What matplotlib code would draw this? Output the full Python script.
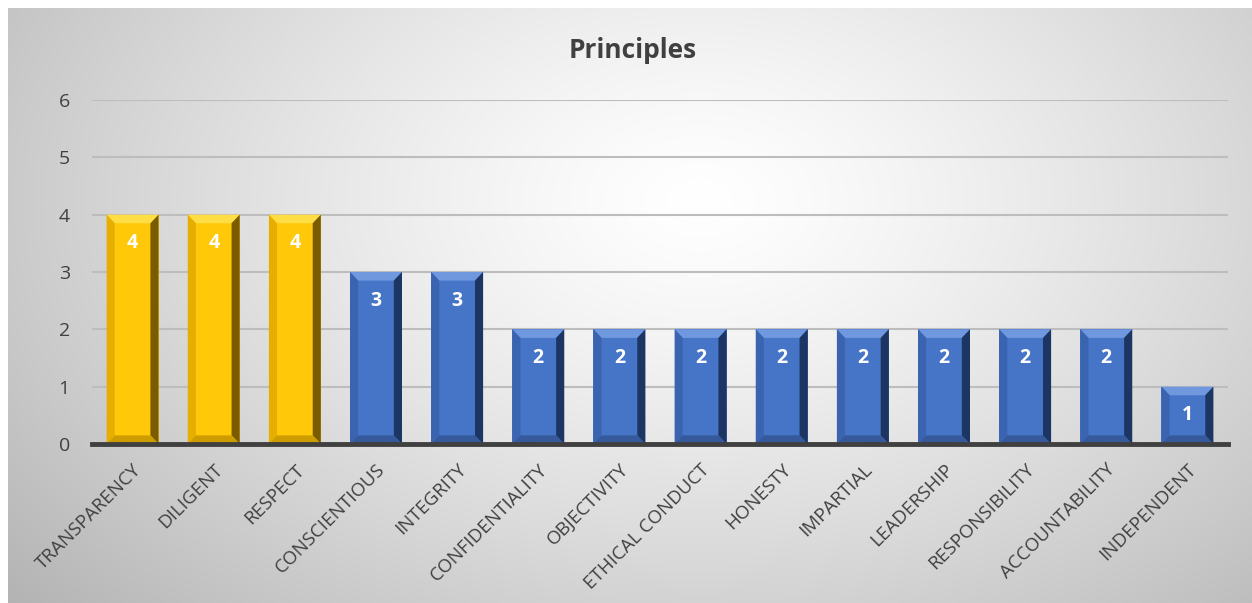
import numpy as np
import matplotlib
matplotlib.use("Agg")
import matplotlib.pyplot as plt
from matplotlib.patches import Polygon

# chart data
principles = ["TRANSPARENCY", "DILIGENT", "RESPECT", "CONSCIENTIOUS", "INTEGRITY",
              "CONFIDENTIALITY", "OBJECTIVITY", "ETHICAL CONDUCT", "HONESTY",
              "IMPARTIAL", "LEADERSHIP", "RESPONSIBILITY", "ACCOUNTABILITY",
              "INDEPENDENT"]
counts = [4, 4, 4, 3, 3, 2, 2, 2, 2, 2, 2, 2, 2, 1]
highlight = [True, True, True] + [False] * 11
y_ticks = [0, 1, 2, 3, 4, 5, 6]

GOLD = dict(face="#FFC808", top="#FFDD45", left="#E6AE00", right="#7A5B00", bottom="#CC9C00")
BLUE = dict(face="#4674C6", top="#7098DE", left="#3A64B0", right="#1C3562", bottom="#35599A")

plt.rcParams["font.family"] = ["Open Sans", "DejaVu Sans"]

W, H = 1252, 603
fig = plt.figure(figsize=(W / 100, H / 100), dpi=100)
fig.patch.set_facecolor("white")

# radial gradient background
bg = fig.add_axes([8 / W, 0, 1 - 8 / W, 1 - 8 / H], zorder=-10)
xx, yy = np.meshgrid(np.linspace(8, W, 400), np.linspace(8, H, 200))
d = np.sqrt(((xx - 700) / 780) ** 2 + ((yy - 200) / 520) ** 2)
v = 1.0 - 0.24 * np.clip(d, 0, 1.2) ** 1.3
bg.imshow(np.dstack([v, v, v]), aspect="auto", extent=[0, 1, 0, 1], origin="upper")
bg.set_axis_off()

ax = fig.add_axes([92 / W, 1 - 444 / H, (1228 - 92) / W, (444 - 100) / H])
ax.patch.set_alpha(0)

x = np.arange(len(principles))
colors = [GOLD["face"] if h else BLUE["face"] for h in highlight]
bars = ax.bar(x, counts, width=0.64, color=colors, zorder=3)

# bevel effect drawn on top of each bar
bx, by = 0.1, 0.15
for b, h in zip(bars, highlight):
    c = GOLD if h else BLUE
    x0, w, ht = b.get_x(), b.get_width(), b.get_height()
    x1 = x0 + w
    faces = [
        ([(x0, ht), (x1, ht), (x1 - bx, ht - by), (x0 + bx, ht - by)], c["top"]),
        ([(x0, 0), (x0 + bx, by), (x0 + bx, ht - by), (x0, ht)], c["left"]),
        ([(x1, 0), (x1, ht), (x1 - bx, ht - by), (x1 - bx, by)], c["right"]),
        ([(x0, 0), (x1, 0), (x1 - bx, by), (x0 + bx, by)], c["bottom"]),
    ]
    for pts, col in faces:
        ax.add_patch(Polygon(pts, closed=True, facecolor=col, edgecolor="none", zorder=4))
    ax.text(x0 + w / 2, ht - 0.5, str(int(ht)), ha="center", va="center",
            color="white", fontsize=14, fontweight="bold", zorder=5)

ax.set_xlim(-0.5, len(principles) - 0.5)
ax.set_ylim(0, 6)
ax.set_yticks(y_ticks)
ax.yaxis.grid(True, color="#BDBDBD", linewidth=1.5, zorder=0)
ax.set_axisbelow(True)
for s in ["top", "right", "left"]:
    ax.spines[s].set_visible(False)
ax.spines["bottom"].set_color("#404040")
ax.spines["bottom"].set_linewidth(3.5)
ax.spines["bottom"].set_zorder(6)

ax.tick_params(axis="both", length=0, colors="#404040", labelsize=14)
ax.tick_params(axis="y", pad=16)
ax.set_xticks(x)
ax.set_xticklabels(principles, rotation=45, ha="right", va="top",
                   rotation_mode="anchor", color="#404040", fontsize=13.5)
ax.tick_params(axis="x", pad=12)

fig.text(633 / W, 1 - 50 / H, "Principles", ha="center", va="center",
         fontsize=19, fontweight="bold", color="#404040")

fig.savefig("out.png", dpi=100)
